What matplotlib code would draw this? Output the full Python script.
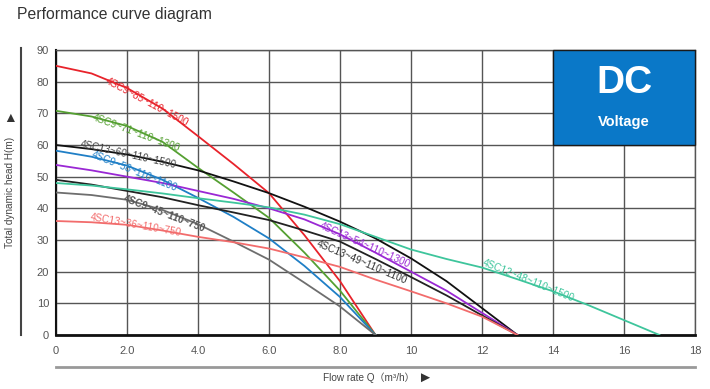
import numpy as np
import matplotlib
matplotlib.use("Agg")
import matplotlib.pyplot as plt
from matplotlib.patches import Rectangle
from matplotlib.lines import Line2D

plt.rcParams['font.family'] = ['Liberation Sans', 'DejaVu Sans', 'Noto Sans CJK SC']

# pump curves (flow m3/h -> head m)
q9 = [0, 1, 2, 3, 4, 5, 6, 7, 8, 9]
q13 = [0, 1, 2, 3, 4, 5, 6, 7, 8, 9, 10, 11, 12, 13]
q17 = [0, 1, 2, 3, 4, 5, 6, 7, 8, 9, 10, 11, 12, 13, 14, 15, 16, 17]

h_9_85 = [85, 82.6, 78, 71.5, 62.8, 54, 44.8, 31.5, 17, 0]
h_9_71 = [70.8, 69, 66, 61, 52.8, 45, 37, 26, 14, 0]
h_9_58 = [58.2, 56.3, 53.5, 49, 43.3, 37.3, 30.5, 21.8, 12, 0]
h_9_45 = [45, 44.2, 42.7, 39.5, 35, 29.5, 23.8, 16.5, 9, 0]
h_13_60 = [60, 58.7, 57, 54.7, 52, 48.5, 44.8, 40.5, 35.8, 30.5, 24.2, 17, 8.5, 0]
h_13_54 = [53.7, 52, 50, 48, 45.5, 43, 40, 36.5, 31.8, 26, 20, 14, 7, 0]
h_13_49 = [49, 47.5, 45.5, 43.5, 41, 38.7, 36.3, 33, 29.5, 24, 18.3, 12.5, 6.2, 0]
h_13_36 = [36, 35.6, 34.8, 33, 31, 29.3, 27.3, 24.5, 21.5, 17.5, 13.8, 10, 5.8, 0]
h_12_48 = [48, 47.2, 46, 44.7, 43.2, 41.8, 40.3, 38, 35, 31, 27, 24, 21.3, 17.6, 13.8, 9.4, 4.7, 0]

xticks = [0, 2, 4, 6, 8, 10, 12, 14, 16, 18]
xtick_labels = ["0", "2.0", "4.0", "6.0", "8.0", "10", "12", "14", "16", "18"]
yticks = [0, 10, 20, 30, 40, 50, 60, 70, 80, 90]

fig = plt.figure(figsize=(7.1, 3.89), dpi=100)
ax = fig.add_axes([56/710, 1-335/389, 639/710, 285/389])

# curves: (x, y, color, label, label color, label pos, rotation, bold)
curves = [
    (q9, h_9_85, '#e8232b', '4SC9~85~110~1500', '#e8232b', (2.55, 73.5), -28, False),
    (q9, h_9_71, '#55a032', '4SC9~71~110~1300', '#55a032', (2.25, 63.8), -20, False),
    (q13, h_13_60, '#111111', '4SC13~60~110~1500', '#444444', (2.05, 57.0), -12.5, False),
    (q9, h_9_58, '#1f7fc6', '4SC9~58~110~1100', '#1f7fc6', (2.2, 51.8), -22, False),
    (q13, h_13_54, '#9a28d4', '4SC13~54~110~1300', '#9a28d4', (8.7, 28.5), -24, False),
    (q13, h_13_49, '#222222', '4SC13~49~110~1100', '#333333', (8.62, 23.1), -23, False),
    (q17, h_12_48, '#3ec59c', '4SC12~48~110~1500', '#3ec59c', (13.32, 17.1), -22, False),
    (q9, h_9_45, '#6e6e6e', '4SC9~45~110~750', '#555555', (3.07, 38.3), -21, True),
    (q13, h_13_36, '#f26c6c', '4SC13~36~110~750', '#f26c6c', (2.25, 34.8), -10, False),
]

for x, y, c, lab, lc, pos, rot, bold in curves:
    ax.plot(x, y, color=c, lw=1.3, zorder=4)
    ax.text(pos[0], pos[1], lab, color=lc, fontsize=7.2, rotation=rot,
            rotation_mode='anchor', ha='center', va='center', zorder=5,
            fontweight='bold' if bold else 'normal')

ax.set_xlim(0, 18)
ax.set_ylim(0, 90)
ax.set_xticks(xticks)
ax.set_xticklabels(xtick_labels)
ax.set_yticks(yticks)
ax.grid(True, color='#555555', lw=1, zorder=1)
ax.set_axisbelow(True)
ax.tick_params(length=0, labelsize=8, labelcolor='#555555')
ax.tick_params(axis='x', pad=8)
ax.tick_params(axis='y', pad=5)
for s in ['top', 'right']:
    ax.spines[s].set_color('#555555')
    ax.spines[s].set_linewidth(1)
ax.spines['left'].set_color('#111111')
ax.spines['left'].set_linewidth(1.5)
ax.spines['bottom'].set_color('#111111')
ax.spines['bottom'].set_linewidth(2)

# DC voltage box
ax.add_patch(Rectangle((14, 60), 4, 30, facecolor='#0a78c8', edgecolor='#1a1a1a',
                       lw=1, zorder=3, clip_on=False))
ax.text(16, 79.6, 'DC', color='white', fontsize=28, fontweight='bold',
        ha='center', va='center', zorder=6)
ax.text(16, 67.3, 'Voltage', color='white', fontsize=10.5, fontweight='bold',
        ha='center', va='center', zorder=6)

fig.text(17/710, 1-15/389, 'Performance curve diagram', fontsize=11.3, color='#333333',
         ha='left', va='center')

fig.text(10/710, 1-192/389, 'Total dynamic head H(m)', fontsize=7.2, color='#444444',
         rotation=90, ha='center', va='center')
fig.text(10/710, 1-118/389, '\u25b2', fontsize=10, color='#333333',
         ha='center', va='center')
fig.add_artist(Line2D([21/710, 21/710], [1-48/389, 1-335/389], color='#444444', lw=1.5))

fig.text(369/710, 1-378/389, 'Flow rate Q\uff08m\u00b3/h\uff09', fontsize=7.2, color='#444444',
         ha='center', va='center')
fig.text(425/710, 1-378/389, '\u25ba', fontsize=11, color='#333333',
         ha='center', va='center')
fig.add_artist(Line2D([56/710, 695/710], [1-367/389, 1-367/389], color='#999999', lw=2))

fig.savefig('out.png', dpi=100)
